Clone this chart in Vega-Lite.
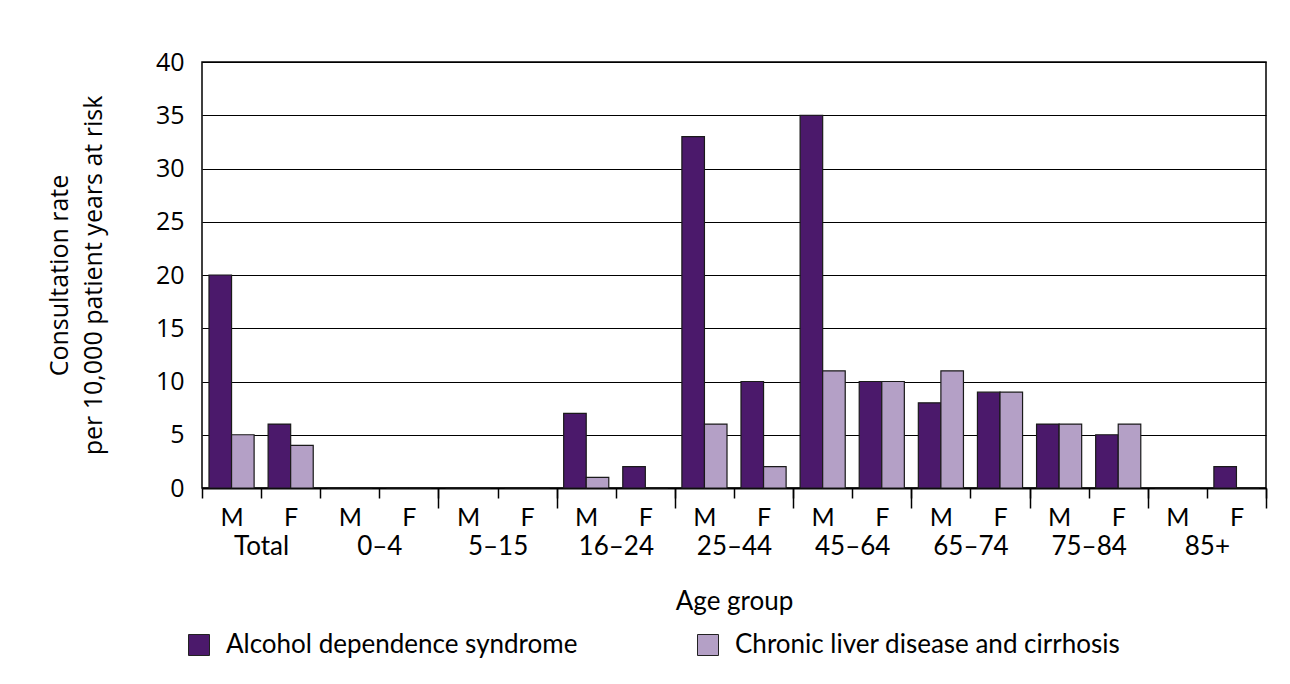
{
  "$schema": "https://vega.github.io/schema/vega-lite/v6.json",
  "width": 1064,
  "height": 426,
  "autosize": "none",
  "padding": {"left": 202, "top": 62, "right": 24, "bottom": 196},
  "background": "white",
  "config": {
    "view": {"stroke": "black", "strokeWidth": 1.5},
    "axis": {"labelColor": "black", "titleColor": "black", "titleFontWeight": "normal"}
  },
  "data": {
    "values": [
      {"age": "Total", "sex": "M", "slot": "Total|M", "series": "Alcohol dependence syndrome", "rate": 20},
      {"age": "Total", "sex": "M", "slot": "Total|M", "series": "Chronic liver disease and cirrhosis", "rate": 5},
      {"age": "Total", "sex": "F", "slot": "Total|F", "series": "Alcohol dependence syndrome", "rate": 6},
      {"age": "Total", "sex": "F", "slot": "Total|F", "series": "Chronic liver disease and cirrhosis", "rate": 4},
      {"age": "0–4", "sex": "M", "slot": "0–4|M", "series": "Alcohol dependence syndrome", "rate": 0},
      {"age": "0–4", "sex": "M", "slot": "0–4|M", "series": "Chronic liver disease and cirrhosis", "rate": 0},
      {"age": "0–4", "sex": "F", "slot": "0–4|F", "series": "Alcohol dependence syndrome", "rate": 0},
      {"age": "0–4", "sex": "F", "slot": "0–4|F", "series": "Chronic liver disease and cirrhosis", "rate": 0},
      {"age": "5–15", "sex": "M", "slot": "5–15|M", "series": "Alcohol dependence syndrome", "rate": 0},
      {"age": "5–15", "sex": "M", "slot": "5–15|M", "series": "Chronic liver disease and cirrhosis", "rate": 0},
      {"age": "5–15", "sex": "F", "slot": "5–15|F", "series": "Alcohol dependence syndrome", "rate": 0},
      {"age": "5–15", "sex": "F", "slot": "5–15|F", "series": "Chronic liver disease and cirrhosis", "rate": 0},
      {"age": "16–24", "sex": "M", "slot": "16–24|M", "series": "Alcohol dependence syndrome", "rate": 7},
      {"age": "16–24", "sex": "M", "slot": "16–24|M", "series": "Chronic liver disease and cirrhosis", "rate": 1},
      {"age": "16–24", "sex": "F", "slot": "16–24|F", "series": "Alcohol dependence syndrome", "rate": 2},
      {"age": "16–24", "sex": "F", "slot": "16–24|F", "series": "Chronic liver disease and cirrhosis", "rate": 0},
      {"age": "25–44", "sex": "M", "slot": "25–44|M", "series": "Alcohol dependence syndrome", "rate": 33},
      {"age": "25–44", "sex": "M", "slot": "25–44|M", "series": "Chronic liver disease and cirrhosis", "rate": 6},
      {"age": "25–44", "sex": "F", "slot": "25–44|F", "series": "Alcohol dependence syndrome", "rate": 10},
      {"age": "25–44", "sex": "F", "slot": "25–44|F", "series": "Chronic liver disease and cirrhosis", "rate": 2},
      {"age": "45–64", "sex": "M", "slot": "45–64|M", "series": "Alcohol dependence syndrome", "rate": 35},
      {"age": "45–64", "sex": "M", "slot": "45–64|M", "series": "Chronic liver disease and cirrhosis", "rate": 11},
      {"age": "45–64", "sex": "F", "slot": "45–64|F", "series": "Alcohol dependence syndrome", "rate": 10},
      {"age": "45–64", "sex": "F", "slot": "45–64|F", "series": "Chronic liver disease and cirrhosis", "rate": 10},
      {"age": "65–74", "sex": "M", "slot": "65–74|M", "series": "Alcohol dependence syndrome", "rate": 8},
      {"age": "65–74", "sex": "M", "slot": "65–74|M", "series": "Chronic liver disease and cirrhosis", "rate": 11},
      {"age": "65–74", "sex": "F", "slot": "65–74|F", "series": "Alcohol dependence syndrome", "rate": 9},
      {"age": "65–74", "sex": "F", "slot": "65–74|F", "series": "Chronic liver disease and cirrhosis", "rate": 9},
      {"age": "75–84", "sex": "M", "slot": "75–84|M", "series": "Alcohol dependence syndrome", "rate": 6},
      {"age": "75–84", "sex": "M", "slot": "75–84|M", "series": "Chronic liver disease and cirrhosis", "rate": 6},
      {"age": "75–84", "sex": "F", "slot": "75–84|F", "series": "Alcohol dependence syndrome", "rate": 5},
      {"age": "75–84", "sex": "F", "slot": "75–84|F", "series": "Chronic liver disease and cirrhosis", "rate": 6},
      {"age": "85+", "sex": "M", "slot": "85+|M", "series": "Alcohol dependence syndrome", "rate": 0},
      {"age": "85+", "sex": "M", "slot": "85+|M", "series": "Chronic liver disease and cirrhosis", "rate": 0},
      {"age": "85+", "sex": "F", "slot": "85+|F", "series": "Alcohol dependence syndrome", "rate": 2},
      {"age": "85+", "sex": "F", "slot": "85+|F", "series": "Chronic liver disease and cirrhosis", "rate": 0}
    ]
  },
  "layer": [
    {
      "mark": {"type": "bar", "stroke": "#1a1a1a", "strokeWidth": 1.2},
      "encoding": {
        "x": {
          "field": "slot", "type": "nominal",
          "sort": ["Total|M", "Total|F", "0–4|M", "0–4|F", "5–15|M", "5–15|F", "16–24|M", "16–24|F", "25–44|M", "25–44|F", "45–64|M", "45–64|F", "65–74|M", "65–74|F", "75–84|M", "75–84|F", "85+|M", "85+|F"],
          "scale": {"paddingInner": 0, "paddingOuter": 0},
          "axis": {
            "title": null, "labelExpr": "split(datum.label, '|')[1]", "labelAngle": 0,
            "tickBand": "extent", "tickSize": 10, "tickColor": "black", "tickWidth": 1.5,
            "domainColor": "black", "domainWidth": 2, "grid": false,
            "labelFont": "Lato", "labelFontSize": 25, "labelPadding": 7
          }
        },
        "xOffset": {
          "field": "series", "type": "nominal",
          "sort": ["Alcohol dependence syndrome", "Chronic liver disease and cirrhosis"],
          "scale": {"paddingInner": 0, "paddingOuter": 0.31}
        },
        "y": {
          "field": "rate", "type": "quantitative",
          "scale": {"domain": [0, 40], "nice": false},
          "axis": {
            "values": [0, 5, 10, 15, 20, 25, 30, 35, 40],
            "ticks": false, "domain": false, "gridColor": "black", "gridWidth": 1.2,
            "labelFont": "Open Sans", "labelFontSize": 25, "labelPadding": 18,
            "title": ["Consultation rate", "per 10,000 patient years at risk"],
            "titleFont": "Open Sans", "titleFontSize": 25, "titleLineHeight": 34, "titlePadding": 49
          }
        },
        "color": {
          "field": "series", "type": "nominal",
          "scale": {"domain": ["Alcohol dependence syndrome", "Chronic liver disease and cirrhosis"], "range": ["#4B196B", "#B4A0C6"]},
          "legend": {
            "orient": "none", "legendX": -16, "legendY": 570, "direction": "horizontal",
            "title": null, "symbolType": "square", "symbolSize": 441, "symbolStrokeColor": "#222",
            "symbolStrokeWidth": 1, "symbolOpacity": 1, "labelFont": "Lato", "labelFontSize": 26,
            "labelColor": "black", "labelOffset": 14, "columnPadding": 117, "labelLimit": 600
          }
        }
      }
    },
    {
      "mark": {"type": "point", "opacity": 0},
      "encoding": {
        "x": {
          "field": "age", "type": "nominal",
          "sort": ["Total", "0–4", "5–15", "16–24", "25–44", "45–64", "65–74", "75–84", "85+"],
          "scale": {"paddingInner": 0, "paddingOuter": 0},
          "axis": {
            "orient": "bottom", "labelAngle": 0, "tickBand": "extent", "tickSize": 20,
            "tickColor": "black", "tickWidth": 1.5, "domain": false, "grid": false,
            "tickOpacity": {"condition": {"test": "datum.value === 'Total' || datum.extra", "value": 0}, "value": 1},
            "labelFont": "Lato", "labelFontSize": 26, "labelPadding": 25,
            "title": "Age group", "titleFont": "Lato", "titleFontSize": 26, "titlePadding": 29
          }
        },
        "y": {"field": "rate", "type": "quantitative"}
      }
    }
  ],
  "resolve": {"scale": {"x": "independent"}, "axis": {"x": "independent"}}
}
